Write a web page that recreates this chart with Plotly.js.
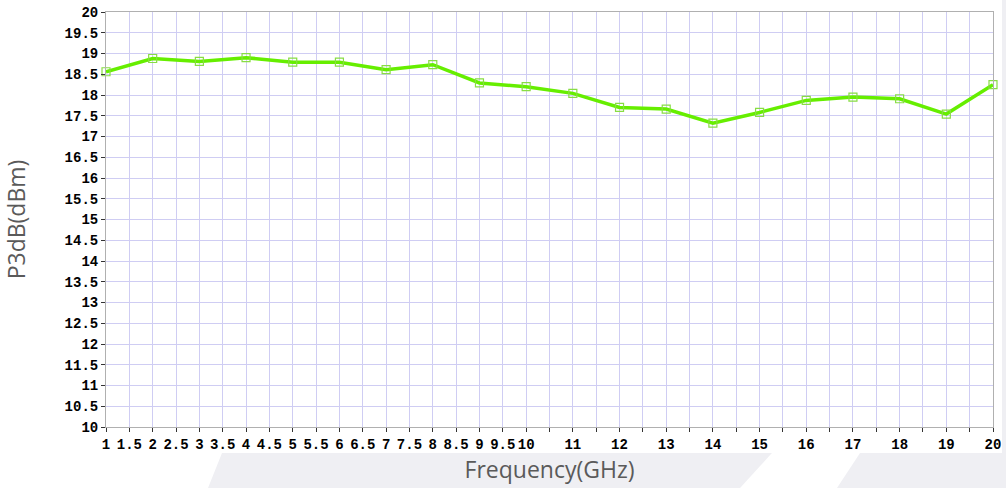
<!DOCTYPE html>
<html>
<head>
<meta charset="utf-8">
<script src="https://cdn.plot.ly/plotly-3.0.1.min.js"></script>
<style>html,body{margin:0;padding:0;background:#fff;}#chart{width:1006px;height:488px;}</style>
</head>
<body>
<div id="chart"></div>
<script>
// Data
var freqGHz = [1, 2, 3, 4, 5, 6, 7, 8, 9, 10, 11, 12, 13, 14, 15, 16, 17, 18, 19, 20];
var p3dB    = [18.56, 18.88, 18.81, 18.9, 18.79, 18.79, 18.61, 18.73, 18.29, 18.2,
               18.04, 17.7, 17.66, 17.32, 17.58, 17.87, 17.95, 17.91, 17.54, 18.25];
var xTickVals = [1,1.5,2,2.5,3,3.5,4,4.5,5,5.5,6,6.5,7,7.5,8,8.5,9,9.5,10,
                 10.5,11,11.5,12,12.5,13,13.5,14,14.5,15,15.5,16,16.5,17,17.5,18,18.5,19,19.5,20];
var xTickText = ["1","1.5","2","2.5","3","3.5","4","4.5","5","5.5","6","6.5","7","7.5","8","8.5","9","9.5","10",
                 "","11","","12","","13","","14","","15","","16","","17","","18","","19","","20"];
var yTickVals = [10,10.5,11,11.5,12,12.5,13,13.5,14,14.5,15,15.5,16,16.5,17,17.5,18,18.5,19,19.5,20];
var yTickText = ["10","10.5","11","11.5","12","12.5","13","13.5","14","14.5","15","15.5","16","16.5","17","17.5","18","18.5","19","19.5","20"];

var W = 1006, H = 488, L = 106, R = 13, T = 12, B = 61;
var pw = W - L - R, ph = H - T - B;
function px(x){ return (x - L) / pw; }
function py(y){ return (H - B - y) / ph; }
function poly(pts){
  return pts.map(function(p,i){ return (i? 'L':'M') + px(p[0]).toFixed(4) + ',' + py(p[1]).toFixed(4); }).join(' ') + ' Z';
}

var trace = {
  x: freqGHz, y: p3dB, type: 'scatter', mode: 'lines+markers',
  line: {color: '#66ee00', width: 3.5},
  marker: {symbol: 'square-open', size: 8, color: '#88dd44', line: {width: 1.2, color: '#88dd44'}},
  cliponaxis: false, hoverinfo: 'x+y'
};

var tickFont = {family: '"Liberation Mono", "DejaVu Sans Mono", monospace', size: 14, color: '#000', weight: 'bold'};

var layout = {
  width: W, height: H,
  margin: {l: L, r: R, t: T, b: B, pad: 0},
  paper_bgcolor: '#ffffff', plot_bgcolor: '#ffffff',
  showlegend: false,
  xaxis: {
    range: [1, 20], tickmode: 'array', tickvals: xTickVals, ticktext: xTickText,
    showgrid: true, gridcolor: '#cfcdf3', gridwidth: 1, zeroline: false,
    showline: true, linecolor: '#b0b0b0', linewidth: 1, mirror: true,
    ticks: 'outside', ticklen: 4, tickcolor: '#333', tickwidth: 1,
    tickfont: tickFont, tickangle: 0,
    title: {text: 'Frequency(GHz)', font: {family: '"Open Sans", sans-serif', size: 23, color: '#5a5a5a'}, standoff: 9}
  },
  yaxis: {
    range: [10, 20], tickmode: 'array', tickvals: yTickVals, ticktext: yTickText,
    showgrid: true, gridcolor: '#cfcdf3', gridwidth: 1, zeroline: false,
    showline: true, linecolor: '#b0b0b0', linewidth: 1, mirror: true,
    ticks: 'outside', ticklen: 4, tickcolor: '#333', tickwidth: 1,
    tickfont: tickFont,
    title: {text: 'P3dB(dBm)', font: {family: '"Open Sans", sans-serif', size: 23, color: '#5a5a5a'}, standoff: 34}
  },
  shapes: [
    {type: 'path', xref: 'paper', yref: 'paper', layer: 'below', line: {width: 0}, fillcolor: '#efeff3',
     path: poly([[208,488],[222,453],[772,453],[740,488]])},
    {type: 'path', xref: 'paper', yref: 'paper', layer: 'below', line: {width: 0}, fillcolor: '#efeff3',
     path: poly([[837,488],[860,453],[1006,453],[1006,488]])},
    {type: 'path', xref: 'paper', yref: 'paper', layer: 'below', line: {width: 0}, fillcolor: '#efeff3',
     path: poly([[1002,0],[1006,0],[1006,453],[1002,453]])}
  ]
};

Plotly.newPlot('chart', [trace], layout, {displayModeBar: false, staticPlot: true});
</script>
</body>
</html>
